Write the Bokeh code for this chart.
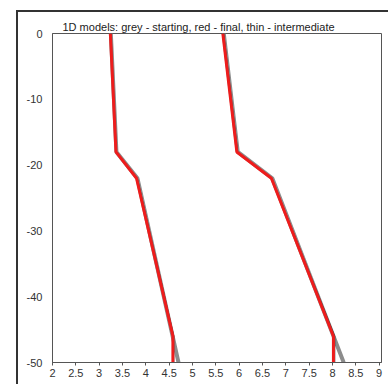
from bokeh.plotting import figure
from bokeh.models import FixedTicker, Range1d, InlineStyleSheet
from bokeh.embed import file_html
from bokeh.resources import INLINE

# ---- data ----
title_text = "1D models: grey - starting, red - final, thin - intermediate"

depth_start = [0, -18, -22, -50]
vs_start = [3.25, 3.37, 3.82, 4.70]
vp_start = [5.67, 5.97, 6.71, 8.24]

depth_mid = [0, -18, -22, -46, -50]
vs_mid = [3.255, 3.37, 3.82, 4.60, 4.60]
vp_mid = [5.67, 5.97, 6.70, 8.05, 8.05]

depth_final = [0, -18, -22, -46, -50]
vs_final = [3.24, 3.36, 3.80, 4.58, 4.58]
vp_final = [5.65, 5.95, 6.69, 8.02, 8.02]

x_ticks = [2, 2.5, 3, 3.5, 4, 4.5, 5, 5.5, 6, 6.5, 7, 7.5, 8, 8.5, 9]
x_tick_labels = ["2", "2.5", "3", "3.5", "4", "4.5", "5", "5.5", "6", "6.5",
                 "7", "7.5", "8", "8.5", "9"]
y_ticks = [0, -10, -20, -30, -40, -50]
y_tick_labels = ["0", "-10", "-20", "-30", "-40", "-50"]

FONT = "Liberation Sans"

outer_frame_css = InlineStyleSheet(css="""
:host { position: relative; }
:host::after {
  content: "";
  position: absolute;
  left: 16px; top: 10px;
  width: 500px; height: 500px;
  border-left: 2px solid #333333;
  border-top: 2px solid #333333;
  pointer-events: none;
  z-index: 5;
}
""")

p = figure(width=388, height=384, output_backend="svg", toolbar_location=None,
           x_range=Range1d(2, 9.05), y_range=Range1d(-50, 0),
           min_border_left=52, min_border_right=7, min_border_top=33,
           min_border_bottom=22)
p.stylesheets = [outer_frame_css]
p.background_fill_color = "white"
p.border_fill_color = "white"
p.outline_line_color = "#555555"
p.outline_line_width = 1
p.grid.visible = False

p.title.text = title_text
p.title.text_font = FONT
p.title.text_font_size = "11px"
p.title.text_font_style = "normal"
p.title.text_color = "#222222"
p.title.offset = 10
p.title.standoff = 2

for ax in (p.xaxis[0], p.yaxis[0]):
    ax.axis_line_color = "#555555"
    ax.major_tick_line_color = "#555555"
    ax.minor_tick_line_color = None
    ax.major_label_text_font = FONT
    ax.major_label_text_font_size = "11px"
    ax.major_label_text_color = "#333333"

p.xaxis.ticker = FixedTicker(ticks=x_ticks)
p.xaxis.major_label_overrides = {t: l for t, l in zip(x_ticks, x_tick_labels)}
p.xaxis.major_tick_out = 3
p.xaxis.major_tick_in = 0
p.xaxis.major_label_standoff = 3

p.yaxis.ticker = FixedTicker(ticks=y_ticks)
p.yaxis.major_label_overrides = {t: l for t, l in zip(y_ticks, y_tick_labels)}
p.yaxis.major_tick_out = 0
p.yaxis.major_tick_in = 0
p.yaxis.major_label_standoff = 10

# starting (grey)
p.line(vs_start, depth_start, line_color="#8c8c8c", line_width=4)
p.line(vp_start, depth_start, line_color="#8c8c8c", line_width=4)
# intermediate (thin)
p.line(vs_mid, depth_mid, line_color="#222222", line_width=0.7)
p.line(vp_mid, depth_mid, line_color="#222222", line_width=0.7)
# final (red)
p.line(vs_final, depth_final, line_color="#ee1c1c", line_width=3)
p.line(vp_final, depth_final, line_color="#ee1c1c", line_width=3)

open("out.html", "w").write(file_html(p, INLINE))
